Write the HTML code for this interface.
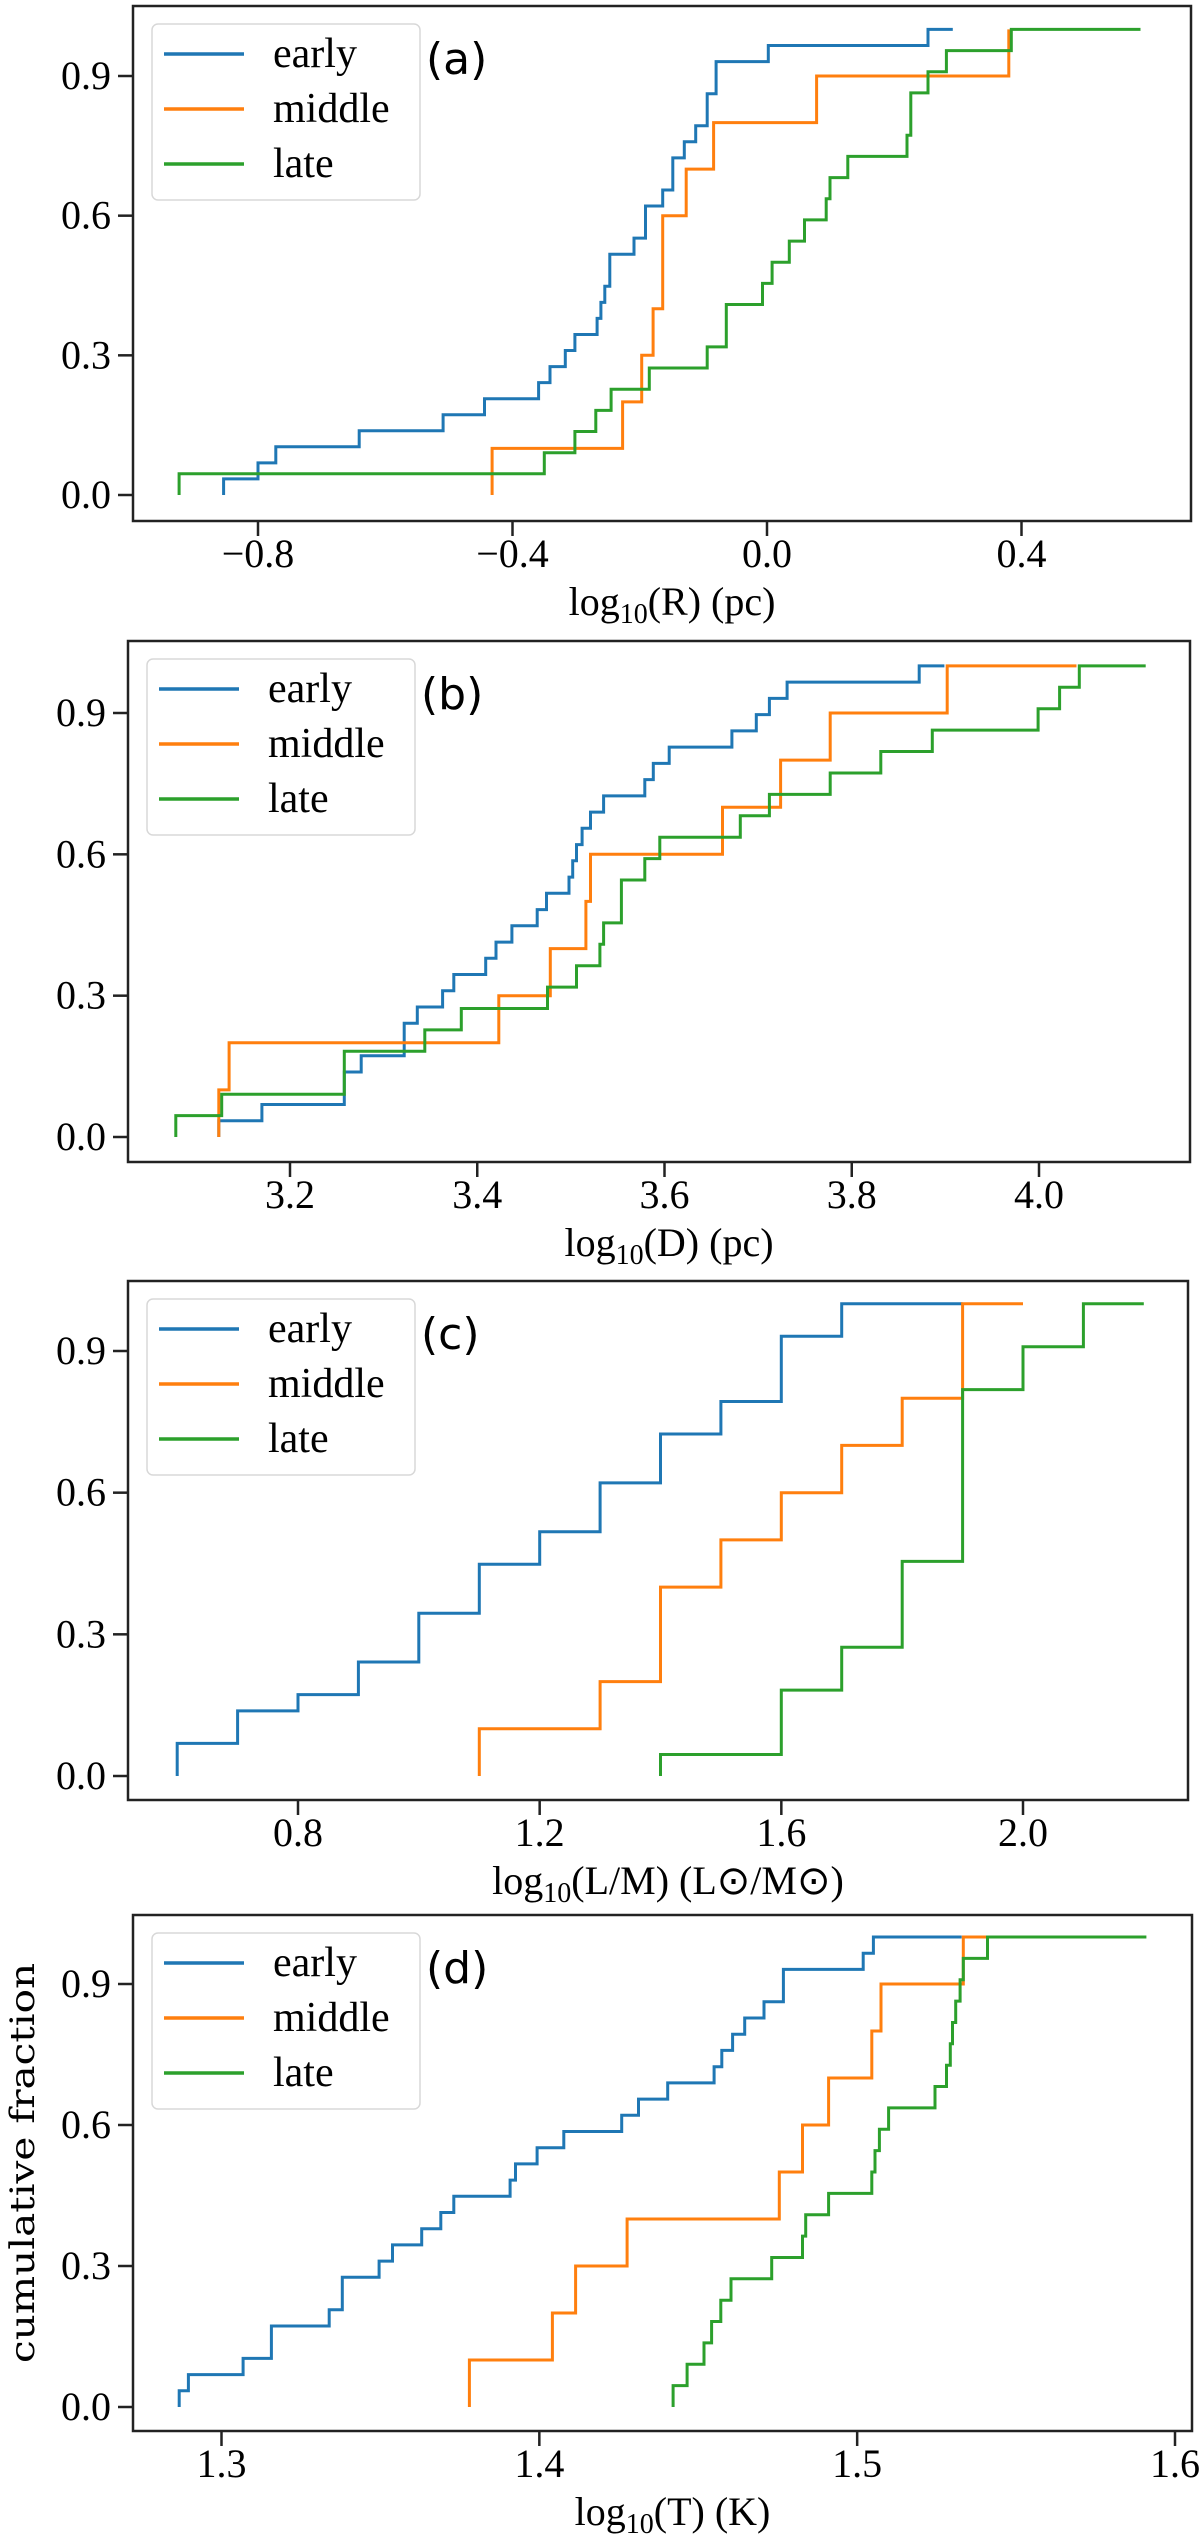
<!DOCTYPE html>
<html><head><meta charset="utf-8"><style>
html,body{margin:0;padding:0;background:#fff;}
svg{display:block;}
.tick{font-family:"Liberation Serif",serif;font-size:40px;fill:#000;}
.lab{font-family:"Liberation Serif",serif;font-size:40px;fill:#000;}
.leg{font-family:"Liberation Serif",serif;font-size:42px;fill:#000;}
.let{font-family:"DejaVu Sans","Liberation Sans",sans-serif;font-size:44px;fill:#000;}
</style></head><body>
<svg id="fig" width="1200" height="2538" viewBox="0 0 1200 2538" xmlns="http://www.w3.org/2000/svg"></svg>
<script>
// Panel (a): log10(R)
const aEarly=[-0.854,-0.800,-0.772,-0.641,-0.509,-0.444,-0.359,-0.341,-0.317,-0.302,-0.267,-0.261,-0.255,-0.247,-0.247,-0.209,-0.191,-0.191,-0.164,-0.148,-0.148,-0.130,-0.112,-0.094,-0.094,-0.080,-0.080,0.002,0.253];
const aMiddle=[-0.432,-0.227,-0.197,-0.179,-0.164,-0.164,-0.127,-0.084,0.078,0.380];
const aLate=[-0.924,-0.350,-0.302,-0.269,-0.245,-0.185,-0.094,-0.064,-0.064,-0.007,0.008,0.035,0.059,0.093,0.099,0.127,0.220,0.226,0.226,0.253,0.282,0.384];
const aEnds=[0.292,0.38,0.587];
const aXTicks=[-0.8,-0.4,0.0,0.4];
const aXTickLabels=["\u22120.8","\u22120.4","0.0","0.4"];
// Panel (b): log10(D)
const bEarly=[3.124,3.170,3.258,3.258,3.276,3.322,3.322,3.336,3.363,3.375,3.409,3.420,3.437,3.464,3.474,3.498,3.502,3.506,3.512,3.521,3.535,3.579,3.588,3.605,3.672,3.698,3.712,3.731,3.872];
const bMiddle=[3.124,3.135,3.423,3.478,3.516,3.521,3.662,3.724,3.777,3.902];
const bLate=[3.078,3.127,3.258,3.258,3.344,3.383,3.475,3.506,3.531,3.535,3.554,3.554,3.579,3.595,3.681,3.712,3.777,3.831,3.886,3.999,4.022,4.043];
const bEnds=[3.899,4.040,4.114];
const bXTicks=[3.2,3.4,3.6,3.8,4.0];
const bXTickLabels=["3.2","3.4","3.6","3.8","4.0"];
// Panel (c): log10(L/M)
const cEarly=[0.6,0.6,0.7,0.7,0.8,0.9,0.9,1.0,1.0,1.0,1.1,1.1,1.1,1.2,1.2,1.3,1.3,1.3,1.4,1.4,1.4,1.5,1.5,1.6,1.6,1.6,1.6,1.7,1.7];
const cMiddle=[1.1,1.3,1.4,1.4,1.5,1.6,1.7,1.8,1.9,1.9];
const cLate=[1.4,1.6,1.6,1.6,1.7,1.7,1.8,1.8,1.8,1.8,1.9,1.9,1.9,1.9,1.9,1.9,1.9,1.9,2.0,2.0,2.1,2.1];
const cEnds=[1.9,2.0,2.2];
const cXTicks=[0.8,1.2,1.6,2.0];
const cXTickLabels=["0.8","1.2","1.6","2.0"];
// Panel (d): log10(T)
const dEarly=[1.2867,1.2896,1.3068,1.3157,1.3157,1.3339,1.3380,1.3380,1.3496,1.3538,1.3630,1.3690,1.3731,1.3908,1.3925,1.3993,1.4077,1.4259,1.4312,1.4404,1.4550,1.4574,1.4608,1.4646,1.4707,1.4768,1.4768,1.5019,1.5051];
const dMiddle=[1.378,1.4041,1.4114,1.4276,1.4755,1.4828,1.491,1.5046,1.5075,1.5334];
const dLate=[1.4421,1.4465,1.4518,1.4542,1.4571,1.4603,1.4731,1.4828,1.4838,1.491,1.5046,1.5056,1.507,1.5099,1.5245,1.5281,1.5293,1.530,1.531,1.5324,1.5334,1.541];
const dEnds=[1.5329,1.541,1.591];
const dXTicks=[1.3,1.4,1.5,1.6];
const dXTickLabels=["1.3","1.4","1.5","1.6"];
const yTicks=[0,0.3,0.6,0.9];
const yTickLabels=["0.0","0.3","0.6","0.9"];
const seriesNames=["early","middle","late"];
const colors=["#1f77b4","#ff7f0e","#2ca02c"];

const NS="http://www.w3.org/2000/svg";
const svg=document.getElementById('fig');
function mk(tag,attrs,parent){const e=document.createElementNS(NS,tag);for(const k in attrs)e.setAttribute(k,attrs[k]);(parent||svg).appendChild(e);return e;}

const panels=[
 {id:'a',L:133,R:1191,T:6,B:521,y0:495,y9:76,xa:-0.8,pa:258,xb:0.4,pb:1021.5,series:[aEarly,aMiddle,aLate],ends:aEnds,ticks:aXTicks,tl:aXTickLabels,lab:['log','10','(R) (pc)']},
 {id:'b',L:128,R:1190,T:641,B:1162,y0:1137,y9:713,xa:3.2,pa:290,xb:4.0,pb:1039,series:[bEarly,bMiddle,bLate],ends:bEnds,ticks:bXTicks,tl:bXTickLabels,lab:['log','10','(D) (pc)']},
 {id:'c',L:128,R:1188,T:1281,B:1800,y0:1776,y9:1351,xa:0.8,pa:298,xb:2.0,pb:1023,series:[cEarly,cMiddle,cLate],ends:cEnds,ticks:cXTicks,tl:cXTickLabels,lab:['log','10','(L/M) (L\u2299/M\u2299)']},
 {id:'d',L:133,R:1192,T:1915,B:2431,y0:2407,y9:1984,xa:1.3,pa:221.5,xb:1.6,pb:1175,series:[dEarly,dMiddle,dLate],ends:dEnds,ticks:dXTicks,tl:dXTickLabels,lab:['log','10','(T) (K)']}
];

panels.forEach(p=>{
  const g=mk('g',{});
  
  
  const X=v=>p.pa+(v-p.xa)*(p.pb-p.pa)/(p.xb-p.xa);
  const Y=v=>p.y0+(p.y9-p.y0)*v/0.9;
  // series
  p.series.forEach((arr,si)=>{
    const s=arr.slice().sort((a,b)=>a-b);const n=s.length;
    let d='M'+X(s[0]).toFixed(1)+','+Y(0).toFixed(1);
    for(let i=0;i<n;i++){
      d+=' V'+Y((i+1)/n).toFixed(1);
      const nx=i<n-1?s[i+1]:p.ends[si];
      d+=' H'+X(nx).toFixed(1);
    }
    const path=mk('path',{d:d,fill:'none',stroke:colors[si],'stroke-width':3},g);
    
    
  });
  // frame
  const fr=mk('rect',{x:p.L,y:p.T,width:p.R-p.L,height:p.B-p.T,fill:'none',stroke:'#222','stroke-width':2.5},g);
  
  
  // y ticks
  yTicks.forEach((v,i)=>{
    const yy=Y(v);
    const t=mk('line',{x1:p.L-15,x2:p.L,y1:yy,y2:yy,stroke:'#222','stroke-width':2.5},g);
    
    
    const tx=mk('text',{x:p.L-22,y:yy+13,'text-anchor':'end',class:'tick'},g);
    tx.textContent=yTickLabels[i];
    
    
  });
  // x ticks
  p.ticks.forEach((v,i)=>{
    const xx=X(v);
    const t=mk('line',{x1:xx,x2:xx,y1:p.B,y2:p.B+15,stroke:'#222','stroke-width':2.5},g);
    
    
    const tx=mk('text',{x:xx,y:p.B+46,'text-anchor':'middle',class:'tick'},g);
    tx.textContent=p.tl[i];
    
    
  });
  // x label
  const xl=mk('text',{x:(p.L+p.R)/2+10,y:p.B+94,'text-anchor':'middle',class:'lab'},g);
  
  
  const t1=mk('tspan',{},xl);t1.textContent=p.lab[0];
  const t2=mk('tspan',{'font-size':'28px',dy:'8'},xl);t2.textContent=p.lab[1];
  const t3=mk('tspan',{dy:'-8'},xl);t3.textContent=p.lab[2];
  // legend
  const lg=mk('g',{},g);
  
  
  mk('rect',{x:p.L+19,y:p.T+18,width:268,height:176,rx:6,fill:'#fff','fill-opacity':0.85,stroke:'#d8d8d8','stroke-width':1.5},lg);
  seriesNames.forEach((nm,i)=>{
    const ly=p.T+48+i*55;
    const e=mk('g',{},lg);
    
    
    mk('line',{x1:p.L+31,x2:p.L+111,y1:ly,y2:ly,stroke:colors[i],'stroke-width':3.5},e);
    const lt=mk('text',{x:p.L+140,y:ly+13,class:'leg'},e);
    lt.textContent=nm;
  });
  // panel letter
  const pl=mk('text',{x:p.L+293,y:p.T+68,class:'let'},g);
  pl.textContent='('+p.id+')';
  
  
});
// y-axis title
const yl=mk('text',{x:0,y:0,transform:'translate(34,2163) rotate(-90)','text-anchor':'middle','font-family':'DejaVu Serif, serif','font-size':'34px',textLength:'400',lengthAdjust:'spacingAndGlyphs'});
yl.textContent='cumulative fraction';


</script>
</body></html>
